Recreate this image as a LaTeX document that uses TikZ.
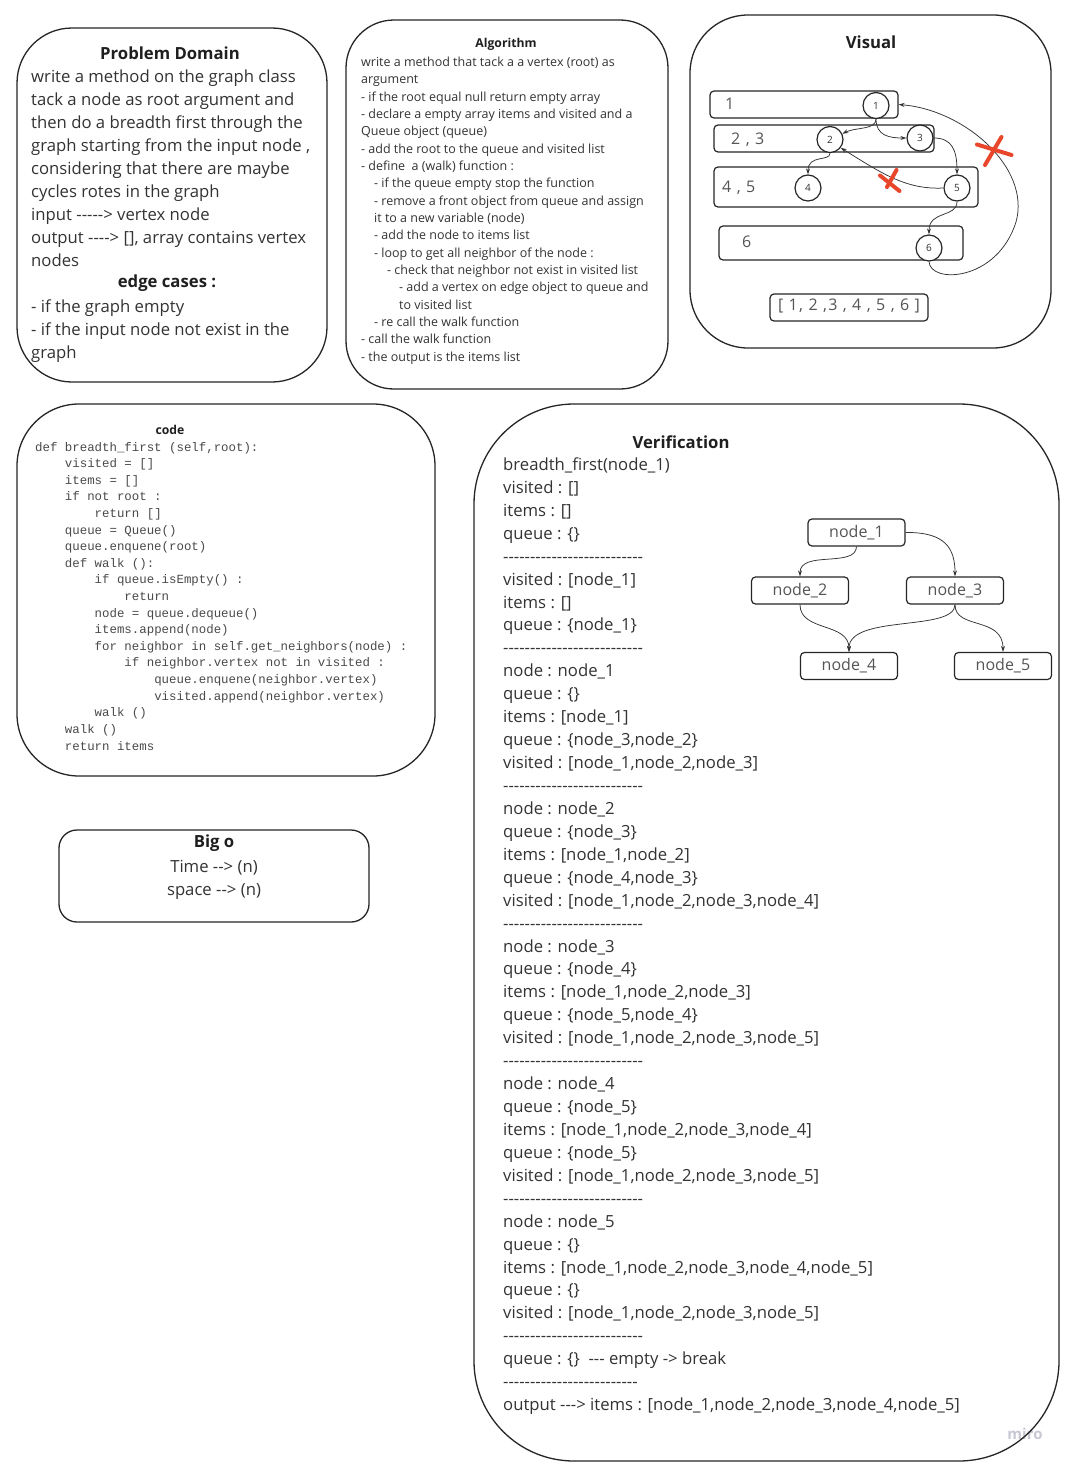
\documentclass[tikz,border=0pt]{standalone}
\usepackage{fontspec}
\newfontfamily\osans{Open Sans}
\newfontfamily\owide{Open Sans}[LetterSpace=8]
\newfontfamily\cmono{Liberation Mono}
\usetikzlibrary{arrows.meta}
\definecolor{ink}{HTML}{333333}
\definecolor{codeink}{HTML}{4A4A4A}
\definecolor{soft}{HTML}{555555}
\definecolor{crossred}{HTML}{E8472B}
\definecolor{wmark}{HTML}{C8C8D4}
\newcommand\codeind{\phantom{xxxx}}

\begin{document}
% multi-line text nodes are anchored at the baseline of their last line
\begin{tikzpicture}[x=1pt,y=-1pt,
  panel/.style={draw=black!85, line width=1.3pt, rectangle, inner sep=0pt},
  rowbox/.style={draw=black!85, line width=1.2pt, rectangle, rounded corners=4pt, inner sep=0pt},
  vtx/.style={draw=black!85, fill=white, line width=1.2pt, circle, minimum size=26pt, inner sep=0pt,
    font=\osans\fontsize{10}{12}\selectfont, text=ink},
  gnode/.style={draw=black!85, fill=white, line width=1.2pt, rectangle, rounded corners=4pt,
    minimum width=97pt, minimum height=27pt, inner sep=0pt, font=\osans\fontsize{16}{20}\selectfont, text=soft},
  hd/.style={font=\osans\bfseries\fontsize{16.7}{20}\selectfont, text=black!88, inner sep=0pt},
  hdsmall/.style={font=\osans\bfseries\fontsize{12.2}{14}\selectfont, text=black!88, inner sep=0pt},
  body/.style={font=\osans\fontsize{16.7}{23}\selectfont, text=ink, align=left, inner sep=0pt, anchor=base west},
  smallbody/.style={font=\osans\fontsize{12.5}{17.33}\selectfont, text=ink, align=left, inner sep=0pt, anchor=base west},
  codebody/.style={font=\cmono\fontsize{12.4}{16.61}\selectfont, text=codeink, align=left, inner sep=0pt, anchor=base west},
  rowlabel/.style={font=\owide\fontsize{16}{20}\selectfont, text=soft, inner sep=0pt, anchor=base west},
  link/.style={draw=black!80, line width=0.75pt, -{Stealth[length=6pt,width=4pt]}},
  cross/.style={draw=crossred, line width=4pt, line cap=round}
]
\useasboundingbox (0,0) rectangle (1067,1464);
\fill[white] (0,0) rectangle (1067,1464);

% watermark, partly covered by the verification frame
\node[font=\osans\bfseries\fontsize{15}{18}\selectfont, text=wmark, inner sep=0pt] (wm) at (1025,1434) {miro};

% ---------- frames ----------
\node[panel, minimum width=310pt, minimum height=354pt, rounded corners=55pt] (domain) at (172,205) {};
\node[panel, minimum width=322pt, minimum height=369pt, rounded corners=48pt] (algo) at (507,204.5) {};
\node[panel, minimum width=361pt, minimum height=333pt, rounded corners=58pt] (visual) at (870.5,181.5) {};
\node[panel, minimum width=418pt, minimum height=372pt, rounded corners=62pt] (code) at (226,590) {};
\node[panel, minimum width=310pt, minimum height=92pt, rounded corners=18pt] (bigo) at (214,876) {};
\node[panel, minimum width=585pt, minimum height=1057pt, rounded corners=100pt] (verif) at (766.5,932.5) {};

% ---------- problem domain ----------
\node[hd] (pdtitle) at (170,53) {Problem Domain};
\node[body] (pdtext) at (31,266) {write a method on the graph class\\
tack a node as root argument and\\
then do a breadth first through the\\
graph starting from the input node ,\\
considering that there are maybe\\
cycles rotes in the graph\\
input -----> vertex node\\
output ----> [], array contains vertex\\
nodes};
\node[hd] (edgetitle) at (167,283) {edge cases :};
\node[body] (edgetext) at (31,358) {- if the graph empty\\
- if the input node not exist in the\\
graph};

% ---------- algorithm ----------
\node[hdsmall] (algotitle) at (506,44) {Algorithm};
\node[smallbody] (algotext) at (361,361) {write a method that tack a a vertex (root) as\\
argument\\
- if the root equal null return empty array\\
- declare a empty array items and visited and a\\
Queue object (queue)\\
- add the root to the queue and visited list\\
- define \ a (walk) function :\\
\hspace*{13pt}- if the queue empty stop the function\\
\hspace*{13pt}- remove a front object from queue and assign\\
\hspace*{13pt}it to a new variable (node)\\
\hspace*{13pt}- add the node to items list\\
\hspace*{13pt}- loop to get all neighbor of the node :\\
\hspace*{26pt}- check that neighbor not exist in visited list\\
\hspace*{38pt}- add a vertex on edge object to queue and\\
\hspace*{38pt}to visited list\\
\hspace*{13pt}- re call the walk function\\
- call the walk function\\
- the output is the items list};

% ---------- visual ----------
\node[hd] (vistitle) at (871,42) {Visual};
\node[rowbox, minimum width=188pt, minimum height=27pt] (row1) at (804,104.5) {};
\node[rowbox, minimum width=220pt, minimum height=27pt] (row2) at (824,138.5) {};
\node[rowbox, minimum width=264pt, minimum height=40pt] (row3) at (846,187) {};
\node[rowbox, minimum width=244pt, minimum height=34pt] (row4) at (841,243) {};
\node[rowbox, minimum width=158pt, minimum height=27pt] (result) at (849,307.5) {};
\node[rowlabel] (lab1) at (725,109) {1};
\node[rowlabel] (lab23) at (731,144) {2 , 3};
\node[rowlabel] (lab45) at (722,192) {4 , 5};
\node[rowlabel] (lab6) at (742,247) {6};
\node[font=\owide\fontsize{16}{20}\selectfont, text=soft, inner sep=0pt] (order) at (849,306) {[ 1, 2 ,3 , 4 , 5 , 6 ]};

\node[vtx] (c1) at (876,105.5) {1};
\node[vtx] (c2) at (830,139.5) {2};
\node[vtx] (c3) at (920,138) {3};
\node[vtx] (c4) at (808,188) {4};
\node[vtx] (c5) at (957,188) {5};
\node[vtx] (c6) at (929,248) {6};

\draw[link] (c1.south) .. controls (876,130) and (856,127) .. (c2.25);
\draw[link] (c1.south) .. controls (876,136) and (890,138) .. (c3.west);
\draw[link] (c3.east) .. controls (952,138) and (957,150) .. (c5.north);
\draw[link] (c2.south) .. controls (830,162) and (808,154) .. (c4.north);
\draw[link] (c5.west) .. controls (905,190) and (880,172) .. (c2.-38);
\draw[link] (c5.south) .. controls (957,218) and (929,210) .. (c6.north);
\draw[link] (c6.south) .. controls (930,284) and (997,282) .. (1016,222)
  .. controls (1031,168) and (965,110) .. (row1.east);

% struck-out back edges
\draw[cross] (896.5,170) -- (887,187);
\draw[cross] (880,175.5) -- (899.5,191);
\draw[cross] (1001.5,137) -- (985,165);
\draw[cross] (977,144.5) -- (1011.5,155);

% ---------- code ----------
\node[hdsmall] (codetitle) at (170,430) {code};
\node[codebody] (codetext) at (35,750) {def breadth\_first (self,root):\\
\codeind visited = []\\
\codeind items = []\\
\codeind if not root :\\
\codeind\codeind return []\\
\codeind queue = Queue()\\
\codeind queue.enquene(root)\\
\codeind def walk ():\\
\codeind\codeind if queue.isEmpty() :\\
\codeind\codeind\codeind return\\
\codeind\codeind node = queue.dequeue()\\
\codeind\codeind items.append(node)\\
\codeind\codeind for neighbor in self.get\_neighbors(node) :\\
\codeind\codeind\codeind if neighbor.vertex not in visited :\\
\codeind\codeind\codeind\codeind queue.enquene(neighbor.vertex)\\
\codeind\codeind\codeind\codeind visited.append(neighbor.vertex)\\
\codeind\codeind walk ()\\
\codeind walk ()\\
\codeind return items};

% ---------- big o ----------
\node[hd] (bigotitle) at (214,843) {Big o};
\node[font=\osans\fontsize{16.7}{23}\selectfont, text=ink, align=center, inner sep=0pt, anchor=base] (bigotext) at (214,895) {Time --> (n)\\space --> (n)};

% ---------- verification ----------
\node[hd] (veriftitle) at (681,442) {Verification};
\node[font=\osans\fontsize{16.7}{22.93}\selectfont, text=ink, align=left, inner sep=0pt, anchor=base west] (veriftext) at (503,1410.6) {breadth\_first(node\_1)\\
visited : []\\
items : []\\
queue : \{\}\\
--------------------------\\
visited : [node\_1]\\
items : []\\
queue : \{node\_1\}\\
--------------------------\\
node : node\_1\\
queue : \{\}\\
items : [node\_1]\\
queue : \{node\_3,node\_2\}\\
visited : [node\_1,node\_2,node\_3]\\
--------------------------\\
node : node\_2\\
queue : \{node\_3\}\\
items : [node\_1,node\_2]\\
queue : \{node\_4,node\_3\}\\
visited : [node\_1,node\_2,node\_3,node\_4]\\
--------------------------\\
node : node\_3\\
queue : \{node\_4\}\\
items : [node\_1,node\_2,node\_3]\\
queue : \{node\_5,node\_4\}\\
visited : [node\_1,node\_2,node\_3,node\_5]\\
--------------------------\\
node : node\_4\\
queue : \{node\_5\}\\
items : [node\_1,node\_2,node\_3,node\_4]\\
queue : \{node\_5\}\\
visited : [node\_1,node\_2,node\_3,node\_5]\\
--------------------------\\
node : node\_5\\
queue : \{\}\\
items : [node\_1,node\_2,node\_3,node\_4,node\_5]\\
queue : \{\}\\
visited : [node\_1,node\_2,node\_3,node\_5]\\
--------------------------\\
queue : \{\}\ \ --- empty -> break\\
-------------------------\\
output ---> items : [node\_1,node\_2,node\_3,node\_4,node\_5]};

\node[gnode] (n1) at (856.5,532.5) {node\_1};
\node[gnode] (n2) at (800,590.5) {node\_2};
\node[gnode] (n3) at (955,590.5) {node\_3};
\node[gnode] (n4) at (849,666) {node\_4};
\node[gnode] (n5) at (1003,666) {node\_5};

\draw[link] (n1.south) .. controls (856,568) and (800,550) .. (n2.north);
\draw[link] (n1.east) .. controls (945,532) and (955,548) .. (n3.north);
\draw[link] (n2.south) .. controls (800,632) and (849,622) .. (n4.north);
\draw[link] (n3.south) .. controls (955,632) and (849,614) .. (n4.north);
\draw[link] (n3.south) .. controls (955,630) and (1003,616) .. (n5.north);
\end{tikzpicture}
\end{document}
